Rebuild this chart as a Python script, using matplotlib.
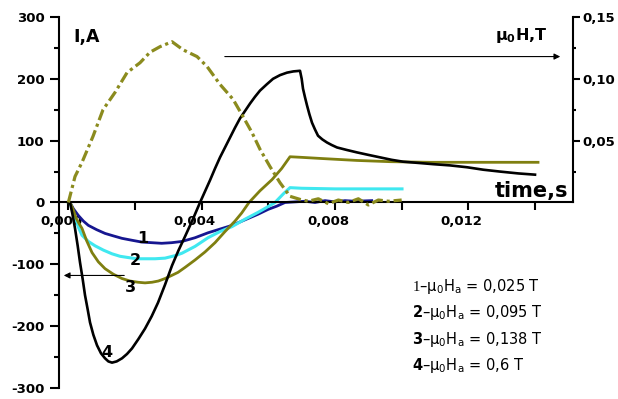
import matplotlib
matplotlib.use('Agg')
import matplotlib.pyplot as plt
import matplotlib.transforms as mtransforms
from matplotlib.ticker import FixedLocator

plt.rcParams['font.family'] = ['DejaVu Sans']
plt.rcParams['mathtext.fontset'] = 'custom'
plt.rcParams['mathtext.rm'] = 'DejaVu Sans'
plt.rcParams['mathtext.bf'] = 'DejaVu Sans:bold'
plt.rcParams['mathtext.sf'] = 'Liberation Serif'
plt.rcParams['mathtext.default'] = 'regular'

# ---- data: time in s, current in A, field in T ----
t1 = [0.0, 0.00005, 0.00015, 0.00030, 0.00045, 0.00060, 0.00085, 0.00110, 0.00135,
      0.00161, 0.00190, 0.00220, 0.00250, 0.00280, 0.00310, 0.00341, 0.00380,
      0.00419, 0.00455, 0.00491, 0.00530, 0.00569, 0.00600, 0.00625, 0.00650,
      0.00680, 0.00710, 0.00740, 0.00770, 0.00800, 0.00830, 0.00860, 0.00910]
i1 = [0, 0, -10, -21, -30, -37, -44, -50, -54, -58, -61, -64, -65, -66, -65, -63,
      -57, -49, -43, -37, -28, -19, -11, -6, 0, 1, 2, 0, 3, 1, 3, 2, 3]

t2 = [0.0, 0.00005, 0.00012, 0.00020, 0.00030, 0.00041, 0.00060, 0.00080, 0.00105,
      0.00131, 0.00155, 0.00179, 0.00205, 0.00230, 0.00260, 0.00290, 0.00320,
      0.00341, 0.00380, 0.00419, 0.00455, 0.00491, 0.00530, 0.00569, 0.00595,
      0.00620, 0.00645, 0.00665, 0.00700, 0.00800, 0.00900, 0.01001]
i2 = [0, 0, -12, -24, -40, -53, -63, -70, -77, -83, -87, -89, -91, -91, -91, -90,
      -86, -82, -71, -57, -47, -39, -27, -16, -8, 0, 14, 24, 23, 22, 22, 22]

t3 = [0.0, 0.00005, 0.00015, 0.00023, 0.00032, 0.00041, 0.00055, 0.00071, 0.00090,
      0.00110, 0.00135, 0.00161, 0.00185, 0.00209, 0.00230, 0.00251, 0.00270,
      0.00290, 0.00310, 0.00329, 0.00350, 0.00380, 0.00410, 0.00440, 0.00470,
      0.00500, 0.00520, 0.00542, 0.00575, 0.00611, 0.00640, 0.00665, 0.00700,
      0.00764, 0.00866, 0.00966, 0.01085, 0.01250, 0.01409]
i3 = [0, 0, -12, -25, -34, -42, -62, -81, -96, -107, -116, -123, -127, -129, -130,
      -129, -127, -123, -118, -113, -105, -93, -80, -65, -47, -30, -17, 0, 19, 37,
      55, 74, 73, 71, 68, 66, 65, 65, 65]

t4 = [0.0, 0.00005, 0.00012, 0.00020, 0.00028, 0.00035, 0.00043, 0.00050, 0.00058,
      0.00065, 0.00075, 0.00086, 0.00098, 0.00110, 0.00120, 0.00131, 0.00145,
      0.00161, 0.00176, 0.00191, 0.00210, 0.00230, 0.00250, 0.00269, 0.00290,
      0.00311, 0.00330, 0.00350, 0.00372, 0.00395, 0.00410, 0.00425, 0.00440,
      0.00455, 0.00470, 0.00485, 0.00500, 0.00515, 0.00530, 0.00545, 0.00560,
      0.00575, 0.00595, 0.00614, 0.00635, 0.00656, 0.00675, 0.00695, 0.00700,
      0.00704, 0.00710, 0.00716, 0.00723, 0.00731, 0.00740, 0.00749, 0.00762,
      0.00776, 0.00790, 0.00806, 0.00835, 0.00866, 0.00900, 0.00935, 0.00970,
      0.01004, 0.01050, 0.01094, 0.01145, 0.01196, 0.01245, 0.01295, 0.01350,
      0.01400]
i4 = [0, 0, -18, -42, -70, -97, -124, -150, -173, -194, -214, -231, -244, -252,
      -257, -259, -257, -252, -245, -236, -221, -204, -184, -162, -133, -102, -78,
      -55, -29, 0, 18, 36, 55, 73, 89, 105, 121, 136, 148, 160, 171, 181, 191, 200,
      206, 210, 212, 213, 200, 184, 170, 157, 143, 129, 118, 108, 102, 97, 93, 89,
      85, 81, 77, 73, 69, 66, 64, 62, 60, 57, 53, 50, 47, 45]

# applied field pulse (right axis)
th = [0.0, 0.00020, 0.00041, 0.00074, 0.00104, 0.00140, 0.00176, 0.00215, 0.00245,
      0.00275, 0.00311, 0.00344, 0.00386, 0.00416, 0.00455, 0.00494, 0.00524,
      0.00551, 0.00575, 0.00605, 0.00635, 0.00665, 0.00695, 0.00720, 0.00750,
      0.00780, 0.00810, 0.00840, 0.00870, 0.00900, 0.00930, 0.00960, 0.01000]
hh = [0.0, 0.021, 0.0325, 0.0535, 0.075, 0.089, 0.105, 0.113, 0.1215, 0.126,
      0.130, 0.1235, 0.118, 0.110, 0.0955, 0.0835, 0.0695, 0.0565, 0.043, 0.029,
      0.016, 0.005, 0.0025, 0.001, 0.003, -0.001, 0.002, 0.0, 0.003, -0.002,
      0.002, 0.001, 0.002]

xticks = [0.0, 0.004, 0.008, 0.012]
xtick_labels = ['0,000', '0,004', '0,008', '0,012']
yticks = [-300, -200, -100, 0, 100, 200, 300]
rticks = [0.05, 0.10, 0.15]
rtick_labels = ['0,05', '0,10', '0,15']
legend_lines = [r'$\mathsf{1}$–μ$_0$H$_a$ = 0,025 T',
                r'$\mathbf{2}$–μ$_0$H$_a$ = 0,095 T',
                r'$\mathbf{3}$–μ$_0$H$_a$ = 0,138 T',
                r'$\mathbf{4}$–μ$_0$H$_a$ = 0,6 T']

fig = plt.figure(figsize=(6.18, 3.99), dpi=100)
ax = fig.add_axes([0.0955, 0.0276, 0.8317, 0.9298])
ax2 = ax.twinx()

ax.plot(t1, i1, color='#161690', lw=2.0)
ax.plot(t2, i2, color='#40e8f0', lw=2.2)
ax.plot(t3, i3, color='#7f7f10', lw=2.0)
ax.plot(t4, i4, color='black', lw=1.9)
ax2.plot(th, hh, color='#8b8b1e', lw=2.3, linestyle=(0, (3.5, 1.2, 1, 1.2)))

ax.set_xlim(-0.00028, 0.01514)
ax.set_ylim(-300, 300)
ax2.set_ylim(-0.15, 0.15)

for s in ['top', 'right']:
    ax.spines[s].set_visible(False)
ax.spines['bottom'].set_position(('data', 0))
ax.spines['left'].set_linewidth(1.5)
ax.spines['bottom'].set_linewidth(1.5)
for s in ['top', 'left', 'bottom']:
    ax2.spines[s].set_visible(False)
ax2.spines['right'].set_bounds(0, 0.15)
ax2.spines['right'].set_linewidth(1.5)

ax.set_xticks(xticks)
ax.set_xticklabels(xtick_labels, fontweight='bold', fontsize=9.5)
ax.xaxis.set_minor_locator(FixedLocator([0.002, 0.006, 0.010, 0.014]))
ax.tick_params(axis='x', which='both', direction='out', length=6, width=1.5, pad=3)
offset = mtransforms.ScaledTranslation(-7 / 100, 0, fig.dpi_scale_trans)
for lab in ax.get_xticklabels():
    lab.set_transform(lab.get_transform() + offset)

ax.set_yticks(yticks)
ax.set_yticklabels([str(v) for v in yticks], fontweight='bold', fontsize=9.5)
ax.yaxis.set_minor_locator(FixedLocator([-250, -150, -50, 50, 150, 250]))
ax.tick_params(axis='y', which='major', length=6.5, width=1.5, pad=4)
ax.tick_params(axis='y', which='minor', length=3.5, width=1.5)

ax2.set_yticks(rticks)
ax2.set_yticklabels(rtick_labels, fontweight='bold', fontsize=9.5)
ax2.yaxis.set_minor_locator(FixedLocator([0.025, 0.075, 0.125]))
ax2.tick_params(axis='y', which='major', length=5, width=1.5, pad=2)
ax2.tick_params(axis='y', which='minor', length=2.5, width=1.5)

# arrows showing which axis each group belongs to
ax.annotate('', xy=(-0.00022, -118), xytext=(0.00176, -118),
            arrowprops=dict(arrowstyle='-|>', color='black', lw=0.8,
                            mutation_scale=9))
ax.annotate('', xy=(0.01484, 236), xytext=(0.00461, 236),
            arrowprops=dict(arrowstyle='-|>', color='black', lw=0.8,
                            mutation_scale=9))

# curve numbers
for s, x, y in [('1', 0.00224, -58), ('2', 0.00200, -94),
                ('3', 0.00185, -137), ('4', 0.00116, -243)]:
    ax.text(x, y, s, fontsize=11.5, fontweight='bold', ha='center', va='center')

fig.text(73 / 618, 1 - 42 / 399, 'I,A', fontsize=12.5, fontweight='bold')
fig.text(548 / 618, 1 - 40 / 399, r'μ$_\mathbf{0}$H,T', fontsize=11.5,
         fontweight='bold', ha='right')
fig.text(568 / 618, 1 - 197 / 399, 'time,s', fontsize=15, fontweight='bold',
         ha='right')

for k, line in enumerate(legend_lines):
    fig.text(412 / 618, 1 - (291 + 26.3 * k) / 399, line, fontsize=10.5,
             va='baseline')

fig.savefig('out.png', dpi=100)
